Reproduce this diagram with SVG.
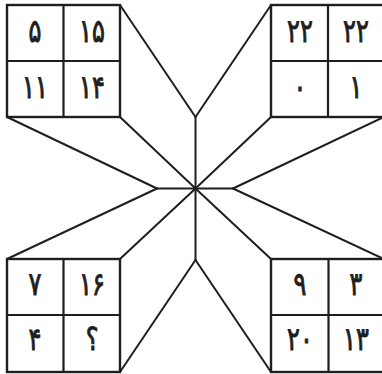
<svg xmlns="http://www.w3.org/2000/svg" width="382" height="374" viewBox="0 0 382 374">
<style>
.ln{stroke:#1e1e1e;stroke-width:2;fill:none;stroke-linecap:round}
.sq{stroke:#1e1e1e;stroke-width:2.4;fill:#fff}
.dv{stroke:#1e1e1e;stroke-width:2.2}
.t{font-family:"DejaVu Sans",sans-serif;font-size:32px;font-weight:normal;fill:#1e1e1e;stroke:#1e1e1e;stroke-width:1;text-anchor:middle;letter-spacing:2px}
</style>
<rect width="382" height="374" fill="#fff"/>
<g id="connectors">
<line class="ln" x1="120" y1="5" x2="195.5" y2="117"/>
<line class="ln" x1="271" y1="5" x2="195.5" y2="117"/>
<line class="ln" x1="195.5" y1="117" x2="195.5" y2="260"/>
<line class="ln" x1="7" y1="117" x2="157" y2="188.5"/>
<line class="ln" x1="7" y1="259" x2="157" y2="188.5"/>
<line class="ln" x1="157" y1="188.5" x2="233" y2="188.5"/>
<line class="ln" x1="120" y1="117" x2="195.5" y2="188.5"/>
<line class="ln" x1="120" y1="259" x2="195.5" y2="188.5"/>
<line class="ln" x1="271" y1="117" x2="195.5" y2="188.5"/>
<line class="ln" x1="271" y1="259" x2="195.5" y2="188.5"/>
<line class="ln" x1="384" y1="117" x2="233" y2="188.5"/>
<line class="ln" x1="384" y1="259" x2="233" y2="188.5"/>
<line class="ln" x1="120" y1="372" x2="195.5" y2="260"/>
<line class="ln" x1="271" y1="372" x2="195.5" y2="260"/>
</g>
<g id="square-tl">
<rect class="sq" x="7" y="5" width="113" height="112"/>
<line class="dv" x1="63.5" y1="5" x2="63.5" y2="117"/>
<line class="dv" x1="7" y1="61" x2="120" y2="61"/>
<g transform="translate(35,42) scale(0.75,1)"><text class="t">۵</text></g>
<g transform="translate(92,42) scale(0.75,1)"><text class="t">۱۵</text></g>
<g transform="translate(35,98) scale(0.75,1)"><text class="t">۱۱</text></g>
<g transform="translate(92,98) scale(0.75,1)"><text class="t">۱۴</text></g>
</g>
<g id="square-tr">
<rect class="sq" x="271" y="5" width="113" height="112"/>
<line class="dv" x1="328" y1="5" x2="328" y2="117"/>
<line class="dv" x1="271" y1="61" x2="384" y2="61"/>
<g transform="translate(300,42) scale(0.75,1)"><text class="t">۲۲</text></g>
<g transform="translate(356,42) scale(0.75,1)"><text class="t">۲۲</text></g>
<g transform="translate(300,98) scale(0.75,1)"><text class="t">۰</text></g>
<g transform="translate(356,98) scale(0.75,1)"><text class="t">۱</text></g>
</g>
<g id="square-bl">
<rect class="sq" x="7" y="259" width="113" height="113"/>
<line class="dv" x1="63.5" y1="259" x2="63.5" y2="372"/>
<line class="dv" x1="7" y1="315" x2="120" y2="315"/>
<g transform="translate(35,295) scale(0.75,1)"><text class="t">۷</text></g>
<g transform="translate(92,295) scale(0.75,1)"><text class="t">۱۶</text></g>
<g transform="translate(35,350) scale(0.75,1)"><text class="t">۴</text></g>
<g transform="translate(92,350) scale(0.75,1)"><text class="t">؟</text></g>
</g>
<g id="square-br">
<rect class="sq" x="271" y="259" width="113" height="113"/>
<line class="dv" x1="328.5" y1="259" x2="328.5" y2="372"/>
<line class="dv" x1="271" y1="315" x2="384" y2="315"/>
<g transform="translate(300,295) scale(0.75,1)"><text class="t">۹</text></g>
<g transform="translate(356,295) scale(0.75,1)"><text class="t">۳</text></g>
<g transform="translate(300,350) scale(0.75,1)"><text class="t">۲۰</text></g>
<g transform="translate(356,350) scale(0.75,1)"><text class="t">۱۳</text></g>
</g>
</svg>
